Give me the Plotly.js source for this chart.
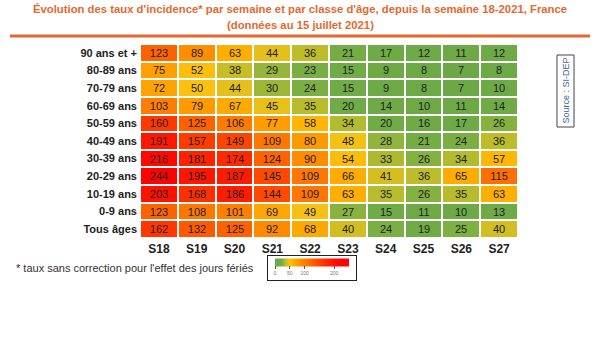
<!DOCTYPE html>
<html>
<head>
<meta charset="utf-8">
<script src="https://cdn.plot.ly/plotly-3.0.1.min.js"></script>
<style>html,body{margin:0;padding:0;background:#fff;}#chart{width:600px;height:359px;}</style>
</head>
<body>
<div id="chart"></div>
<script>
const weeks = ["S18","S19","S20","S21","S22","S23","S24","S25","S26","S27"];
const ageGroups = ["90 ans et +","80-89 ans","70-79 ans","60-69 ans","50-59 ans","40-49 ans","30-39 ans","20-29 ans","10-19 ans","0-9 ans","Tous âges"];
const r90 = [123,89,63,44,36,21,17,12,11,12];
const r80 = [75,52,38,29,23,15,9,8,7,8];
const r70 = [72,50,44,30,24,15,9,8,7,10];
const r60 = [103,79,67,45,35,20,14,10,11,14];
const r50 = [160,125,106,77,58,34,20,16,17,26];
const r40 = [191,157,149,109,80,48,28,21,24,36];
const r30 = [216,181,174,124,90,54,33,26,34,57];
const r20 = [244,195,187,145,109,66,41,36,65,115];
const r10 = [203,168,186,144,109,63,35,26,35,63];
const r0 = [123,108,101,69,49,27,15,11,10,13];
const rAll = [162,132,125,92,68,40,24,19,25,40];
const legendTicks = [0,50,100,200];
const titleLine1 = "Évolution des taux d'incidence* par semaine et par classe d'âge, depuis la semaine 18-2021, France";
const titleLine2 = "(données au 15 juillet 2021)";

const z = [r90,r80,r70,r60,r50,r40,r30,r20,r10,r0,rAll];

// plot-area pixel helpers
const L=140,R=518,T=44,B=238;
const px = x => (x-L)/(R-L);
const py = y => (B-y)/(B-T);

const colorscale = [
 [0,'#6aa847'],[0.08,'#70ac45'],[0.10,'#7eb042'],[0.12,'#9cb638'],[0.14,'#b8bb2c'],
 [0.16,'#d2be22'],[0.18,'#e8c01a'],[0.2,'#fbc010'],[0.24,'#ffb300'],[0.3,'#ff9f00'],
 [0.36,'#ff8c00'],[0.44,'#ff7500'],[0.52,'#ff5a00'],[0.64,'#ff3800'],[0.76,'#ff1800'],
 [0.88,'#ff0500'],[1,'#ff0000']
];

const trace = {
  type:'heatmap', x:weeks, y:ageGroups, z:z,
  zmin:0, zmax:250, colorscale:colorscale,
  xgap:2, ygap:2,
  texttemplate:'%{z}', textfont:{family:'Liberation Sans, Arial, sans-serif', size:11, color:'#222'},
  hoverinfo:'skip',
  colorbar:{
    orientation:'h', x:px(312), xanchor:'center', y:py(268), yanchor:'middle',
    lenmode:'pixels', len:88, thickness:8,
    tickvals:legendTicks, ticks:'outside', ticklen:3, tickcolor:'#555',
    tickfont:{size:5, color:'#777'},
    outlinewidth:0, borderwidth:1, bordercolor:'#222', xpad:7, ypad:3
  }
};

const titleFont = {family:'Liberation Sans, Arial, sans-serif', size:11.3, color:'#e5692e', weight:'bold'};

const layout = {
  width:600, height:359,
  margin:{l:L, r:600-R, t:T, b:359-B},
  paper_bgcolor:'#fff', plot_bgcolor:'#fff',
  font:{family:'Liberation Sans, Arial, sans-serif', color:'#222'},
  xaxis:{type:'category', side:'bottom', showgrid:false, zeroline:false, showline:false, ticks:'',
    tickfont:{size:12, color:'#222', weight:'bold'}, ticklabelstandoff:2},
  yaxis:{type:'category', autorange:'reversed', showgrid:false, zeroline:false, showline:false, ticks:'',
    tickfont:{size:11, color:'#222', weight:'bold'}, ticklabelstandoff:2},
  shapes:[
    {type:'line', xref:'paper', yref:'paper', x0:px(10), x1:px(590), y0:py(36), y1:py(36), line:{color:'#e5692e', width:3}},
    {type:'rect', xref:'paper', yref:'paper', x0:px(557), x1:px(574), y0:py(55), y1:py(127), line:{color:'#444', width:1}, fillcolor:'rgba(0,0,0,0)'}
  ],
  annotations:[
    {text:titleLine1, xref:'paper', yref:'paper', x:px(300), y:py(9), xanchor:'center', yanchor:'middle', showarrow:false, font:titleFont},
    {text:titleLine2, xref:'paper', yref:'paper', x:px(300), y:py(25), xanchor:'center', yanchor:'middle', showarrow:false, font:titleFont},
    {text:"* taux sans correction pour l'effet des jours fériés", xref:'paper', yref:'paper', x:px(14), y:py(268), xanchor:'left', yanchor:'middle', showarrow:false,
      font:{size:11, color:'#333'}},
    {text:"Source : SI-DEP", xref:'paper', yref:'paper', x:px(565.5), y:py(91), xanchor:'center', yanchor:'middle', textangle:-90, showarrow:false,
      font:{size:9, color:'#3a5f9a'}}
  ]
};

Plotly.newPlot('chart',[trace],layout,{displayModeBar:false, staticPlot:true});
</script>
</body>
</html>
